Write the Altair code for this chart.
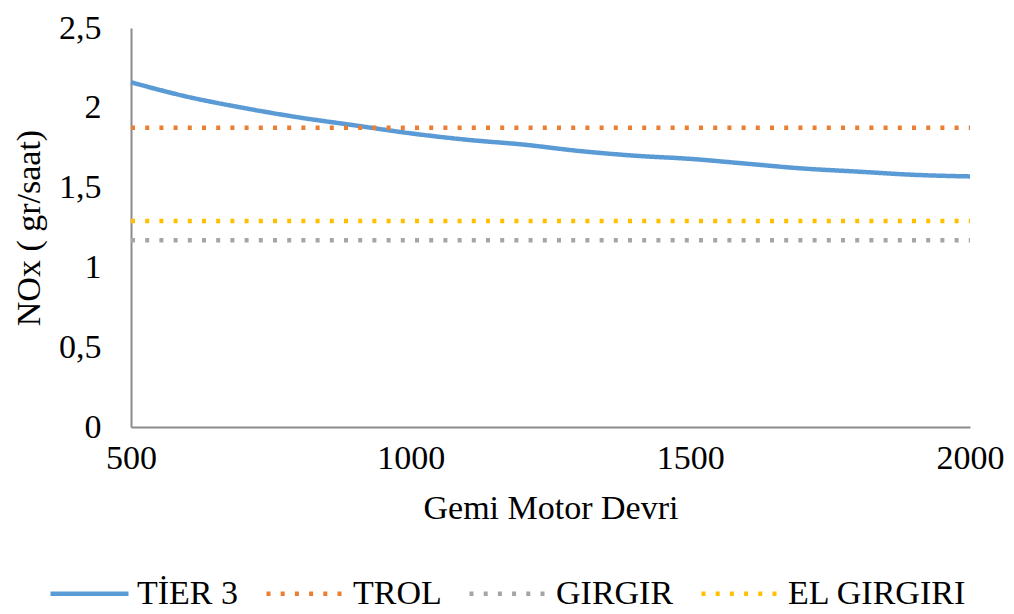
import altair as alt
import pandas as pd

# Engine speed (rpm) and readings from the reference
rpm = [500, 600, 700, 800, 900, 1000, 1100, 1200, 1300, 1400, 1500, 1600, 1700, 1800, 1900, 2000]
tier3 = [2.16, 2.07, 2.00, 1.94, 1.89, 1.84, 1.80, 1.77, 1.73, 1.70, 1.68, 1.65, 1.62, 1.60, 1.58, 1.57]

flat_x = [500, 2000]
trol = [1.875, 1.875]
girgir = [1.17, 1.17]
el_girgiri = [1.29, 1.29]

names = ["TİER 3", "TROL", "GIRGIR", "EL GIRGIRI"]
colors = ["#5B9BD5", "#ED7D31", "#A5A5A5", "#FFC000"]
dashes = [[1, 0], [4, 10.2], [4, 10.2], [4, 10.2]]

rows = []
for x, y in zip(rpm, tier3):
    rows.append({"rpm": x, "nox": y, "series": names[0]})
for vals, nm in [(trol, names[1]), (girgir, names[2]), (el_girgiri, names[3])]:
    for x, y in zip(flat_x, vals):
        rows.append({"rpm": x, "nox": y, "series": nm})
df = pd.DataFrame(rows)

FONT = "Liberation Serif"

legend = alt.Legend(
    title=None,
    orient="none",
    legendX=-83,
    legendY=524,
    direction="horizontal",
    columns=4,
    symbolType="stroke",
    symbolSize=6084,
    symbolStrokeWidth=4.5,
    labelFont=FONT,
    labelFontSize=34,
    labelColor="#000000",
    labelOffset=6,
    columnPadding=18,
    labelLimit=400,
)

chart = (
    alt.Chart(df)
    .mark_line(strokeWidth=4.5, interpolate="monotone")
    .encode(
        x=alt.X(
            "rpm:Q",
            scale=alt.Scale(domain=[500, 2000], nice=False),
            axis=alt.Axis(
                title="Gemi Motor Devri",
                values=[500, 1000, 1500, 2000],
                format="d",
                grid=False,
                ticks=False,
                labelFlush=False,
                labelOverlap=False,
                labelPadding=14,
                titlePadding=16,
            ),
        ),
        y=alt.Y(
            "nox:Q",
            scale=alt.Scale(domain=[0, 2.5], nice=False),
            axis=alt.Axis(
                title="NOx ( gr/saat)",
                values=[0, 0.5, 1, 1.5, 2, 2.5],
                labelExpr="replace(format(datum.value, '~g'), '.', ',')",
                grid=False,
                ticks=False,
                labelPadding=30,
                titlePadding=12,
            ),
        ),
        color=alt.Color(
            "series:N",
            scale=alt.Scale(domain=names, range=colors),
            sort=names,
            legend=legend,
        ),
        strokeDash=alt.StrokeDash(
            "series:N",
            scale=alt.Scale(domain=names, range=dashes),
            sort=names,
            legend=legend,
        ),
    )
    .properties(
        width=839,
        height=399,
        autosize=alt.AutoSizeParams(type="none"),
        padding={"left": 123, "top": 20, "right": 36, "bottom": 186},
    )
    .configure_view(stroke=None)
    .configure_axis(
        domainColor="#8c8c8c",
        domainWidth=2,
        labelFont=FONT,
        labelFontSize=34,
        labelColor="#000000",
        titleFont=FONT,
        titleFontSize=34,
        titleFontWeight="normal",
        titleColor="#000000",
    )
)

chart.save("out.html", embed_options={"renderer": "svg", "actions": False})
